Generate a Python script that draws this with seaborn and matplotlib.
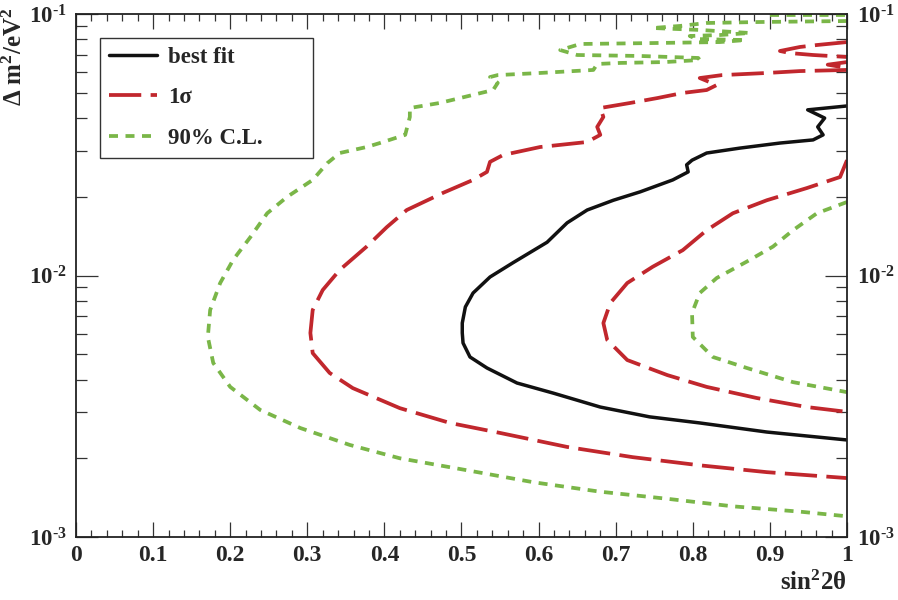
import numpy as np
import pandas as pd
import matplotlib
matplotlib.use("Agg")
import matplotlib.pyplot as plt
from matplotlib.lines import Line2D
from matplotlib.ticker import FixedLocator, FixedFormatter, LogLocator, NullFormatter
import seaborn as sns

# ---------------- data ----------------
best_x = [1.0, 0.949, 0.971, 0.962, 0.969, 0.956, 0.913, 0.861, 0.818, 0.799, 0.792, 0.794,
          0.774, 0.732, 0.697, 0.663, 0.637, 0.611, 0.567, 0.537, 0.515, 0.505, 0.501, 0.501, 0.502,
          0.511, 0.533, 0.572, 0.619, 0.680, 0.744, 0.809, 0.896, 1.0]
best_y = [0.0445, 0.0430, 0.0400, 0.0370, 0.0345, 0.0330, 0.0321, 0.0307, 0.0294, 0.0276, 0.0265, 0.0249,
          0.0232, 0.0209, 0.0194, 0.0178, 0.0159, 0.0134, 0.0112, 0.00987, 0.00857, 0.00758, 0.00658, 0.00603, 0.00552,
          0.00488, 0.00443, 0.00388, 0.00355, 0.00314, 0.00288, 0.00273, 0.00252, 0.00235]

sig_outer_x = [1.0, 0.939, 0.896, 0.838, 0.809, 0.831, 0.818, 0.787, 0.754, 0.719, 0.680, 0.684, 0.676,
               0.680, 0.663, 0.602, 0.554, 0.537, 0.533, 0.515, 0.476, 0.429, 0.403, 0.377, 0.342, 0.320,
               0.307, 0.304, 0.307, 0.329, 0.359, 0.420, 0.485, 0.550, 0.637, 0.722, 0.809, 0.896, 1.0]
sig_outer_y = [0.0611, 0.0605, 0.0595, 0.0584, 0.0569, 0.0535, 0.0512, 0.0499, 0.0477, 0.0457, 0.0437, 0.0404, 0.0370,
               0.0345, 0.0324, 0.0310, 0.0289, 0.0272, 0.0249, 0.0232, 0.0207, 0.0178, 0.0153, 0.0129, 0.0105, 0.00880,
               0.00738, 0.00603, 0.00505, 0.00424, 0.00371, 0.00311, 0.00273, 0.00250, 0.00221, 0.00202, 0.00188, 0.00177, 0.00168]
sig_hook_x = [1.0, 0.975, 1.0]
sig_hook_y = [0.0655, 0.0640, 0.0622]
sig_chevron_x = [1.0, 0.961, 0.939, 0.913, 0.926, 0.956, 1.0]
sig_chevron_y = [0.0781, 0.0761, 0.0748, 0.0722, 0.0709, 0.0697, 0.0685]
sig_inner_x = [1.0, 0.991, 0.948, 0.896, 0.852, 0.818, 0.787, 0.748, 0.715, 0.693, 0.684, 0.689, 0.715,
               0.767, 0.818, 0.883, 0.948, 1.0]
sig_inner_y = [0.0276, 0.0238, 0.0216, 0.0194, 0.0173, 0.0149, 0.0125, 0.0108, 0.00936, 0.00785, 0.00658, 0.00567, 0.00475,
               0.00416, 0.00375, 0.00340, 0.00314, 0.00301]

cl_outer_x = [1.0, 0.887, 0.818, 0.783, 0.748, 0.809, 0.874, 0.835, 0.796, 0.805, 0.868, 0.835, 0.744, 0.654,
              0.628, 0.650, 0.732, 0.807, 0.809, 0.764, 0.706, 0.676, 0.671, 0.602, 0.547, 0.537, 0.547, 0.541,
              0.472, 0.433, 0.433, 0.427, 0.394, 0.377, 0.342, 0.326, 0.307, 0.274, 0.248, 0.226, 0.204, 0.187,
              0.174, 0.171, 0.178, 0.200, 0.239, 0.291, 0.355, 0.420, 0.507, 0.593, 0.680, 0.767, 0.852, 0.939, 1.0]
cl_outer_y = [0.0940, 0.0932, 0.0924, 0.0900, 0.0884, 0.0869, 0.0846, 0.0831, 0.0824, 0.0802, 0.0795, 0.0781, 0.0774, 0.0768,
              0.0728, 0.0697, 0.0691, 0.0679, 0.0667, 0.0655, 0.0650, 0.0644, 0.0611, 0.0595, 0.0584, 0.0574, 0.0545, 0.0512,
              0.0457, 0.0437, 0.0404, 0.0345, 0.0321, 0.0310, 0.0294, 0.0269, 0.0232, 0.0200, 0.0173, 0.0140, 0.0115, 0.00936,
              0.00738, 0.00582, 0.00463, 0.00375, 0.00306, 0.00261, 0.00225, 0.00200, 0.00180, 0.00162, 0.00149, 0.00140, 0.00131, 0.00125, 0.00120]
cl_top_x = [0.900, 1.0]
cl_top_y = [0.0987, 0.0987]
cl_inner_x = [1.0, 0.961, 0.930, 0.904, 0.870, 0.831, 0.809, 0.799, 0.800, 0.826, 0.870, 0.930, 1.0]
cl_inner_y = [0.0191, 0.0173, 0.0149, 0.0129, 0.0113, 0.00978, 0.00857, 0.00719, 0.00582, 0.00488, 0.00443, 0.00391, 0.00358]

legend_labels = ["best fit", "1σ", "90% C.L."]
x_ticks = [0.0, 0.1, 0.2, 0.3, 0.4, 0.5, 0.6, 0.7, 0.8, 0.9, 1.0]
x_tick_labels = ["0", "0.1", "0.2", "0.3", "0.4", "0.5", "0.6", "0.7", "0.8", "0.9", "1"]
y_ticks = [1e-3, 1e-2, 1e-1]
y_tick_labels = [r"$10^{\text{-}3}$", r"$10^{\text{-}2}$", r"$10^{\text{-}1}$"]

# ---------------- style ----------------
sns.set_style("ticks")
plt.rcParams["font.family"] = ["Liberation Serif", "DejaVu Serif"]
plt.rcParams["font.weight"] = "bold"
plt.rcParams["mathtext.fontset"] = "custom"
plt.rcParams["mathtext.rm"] = "Liberation Serif:bold"
plt.rcParams["mathtext.bf"] = "Liberation Serif:bold"
plt.rcParams["mathtext.it"] = "Liberation Serif:bold:italic"
plt.rcParams["mathtext.default"] = "rm"

BLACK = "#111111"
RED = "#c1272d"
GREEN = "#7ab648"
LW = 2.7
solid = dict(color=BLACK, linewidth=2.5, linestyle="-")
dashed = dict(color=RED, linewidth=LW, linestyle=(0, (8.6, 2.5)))
dotted = dict(color=GREEN, linewidth=LW, linestyle=(0, (2.4, 2.0)))

fig = plt.figure(figsize=(8.98, 6.0), dpi=100)
ax = fig.add_axes([76 / 898, 1 - 537 / 600, 771 / 898, 523 / 600])

def draw(xs, ys, style):
    df = pd.DataFrame({"x": xs, "y": ys})
    sns.lineplot(data=df, x="x", y="y", sort=False, estimator=None, ax=ax,
                 legend=False, solid_capstyle="butt", dash_capstyle="butt",
                 solid_joinstyle="round", **style)

draw(cl_outer_x, cl_outer_y, dotted)
draw(cl_top_x, cl_top_y, dotted)
draw(cl_inner_x, cl_inner_y, dotted)
draw(sig_outer_x, sig_outer_y, dashed)
draw(sig_hook_x, sig_hook_y, dashed)
draw(sig_chevron_x, sig_chevron_y, dashed)
draw(sig_inner_x, sig_inner_y, dashed)
draw(best_x, best_y, solid)

ax.set_yscale("log")
ax.set_xlim(0, 1)
ax.set_ylim(1e-3, 1e-1)
ax.set_xlabel("")
ax.set_ylabel("")

ax.xaxis.set_major_locator(FixedLocator(x_ticks))
ax.xaxis.set_major_formatter(FixedFormatter(x_tick_labels))
ax.xaxis.set_minor_locator(FixedLocator(np.arange(0, 1.0001, 0.02)))
ax.yaxis.set_major_locator(FixedLocator(y_ticks))
ax.yaxis.set_major_formatter(FixedFormatter(y_tick_labels))
ax.yaxis.set_minor_locator(LogLocator(base=10, subs=np.arange(2, 10)))
ax.yaxis.set_minor_formatter(NullFormatter())

for s in ax.spines.values():
    s.set_visible(True)
    s.set_linewidth(1.3)
    s.set_color("#222222")

ax.tick_params(axis="both", which="both", direction="in", top=True, right=True,
               color="#333333", width=0.9)
ax.tick_params(axis="x", which="major", length=11, labelsize=17, pad=6)
ax.tick_params(axis="x", which="minor", length=5)
ax.tick_params(axis="y", which="major", length=16, labelsize=16.5, pad=7, labelright=True)
ax.tick_params(axis="y", which="minor", length=8)

handles = [Line2D([], [], **solid), Line2D([], [], **dashed), Line2D([], [], **dotted)]
leg = ax.legend(handles, legend_labels, loc="upper left",
                bbox_to_anchor=(0.031, 0.7266, 0.276, 0.2274), mode="expand",
                borderaxespad=0, frameon=True, fancybox=False, framealpha=1,
                edgecolor="#333333", handlelength=2.1, handletextpad=0.5,
                labelspacing=0.85, borderpad=0.38,
                prop={"family": "Liberation Serif", "weight": "bold", "size": 16.5})
leg.get_frame().set_linewidth(1.0)

fig.text(847 / 898, 1 - 590 / 600, "sin$^{2}$2θ", ha="right", va="baseline", fontsize=18,
         fontweight="bold")
fig.text(15 / 898, 1 - 7 / 600, "Δ m$^{2}$/eV$^{2}$", ha="center", va="top", rotation=90,
         fontsize=18, fontweight="bold")

fig.savefig("out.png", dpi=100)
